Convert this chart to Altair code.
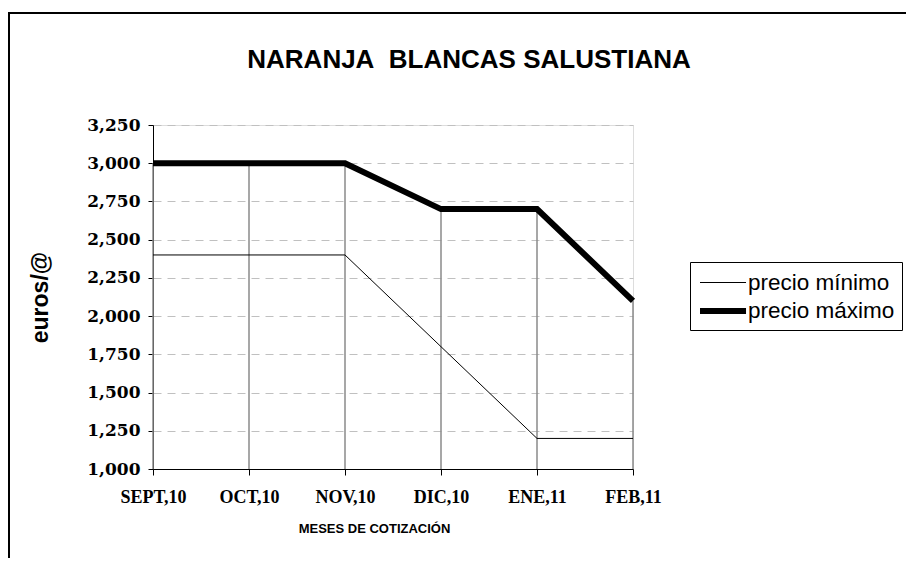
import altair as alt
import pandas as pd

months = ["SEPT,10", "OCT,10", "NOV,10", "DIC,10", "ENE,11", "FEB,11"]
precio_min = [2.4, 2.4, 2.4, 1.8, 1.2, 1.2]
precio_max = [3.0, 3.0, 3.0, 2.7, 2.7, 2.1]
series_names = ["precio mínimo", "precio máximo"]
y_ticks = [1.0, 1.25, 1.5, 1.75, 2.0, 2.25, 2.5, 2.75, 3.0, 3.25]
chart_title = "NARANJA\u00a0 BLANCAS SALUSTIANA"

wide = pd.DataFrame({"mes": months, "min": precio_min, "max": precio_max})
long = pd.concat([
    pd.DataFrame({"mes": months, "serie": series_names[0], "valor": precio_min}),
    pd.DataFrame({"mes": months, "serie": series_names[1], "valor": precio_max}),
])

x_axis = alt.Axis(
    title="MESES DE COTIZACIÓN", labelAngle=0, grid=False,
    labelFont="Liberation Serif", labelFontWeight="bold", labelFontSize=18,
    labelColor="black", labelPadding=13,
    domainColor="black", domainWidth=1, tickColor="black", tickSize=6,
    titleFont="Liberation Sans", titleFontWeight="bold", titleFontSize=13,
    titleColor="black", titleX=221, titleY=59, titleBaseline="middle",
    titleAnchor="start", titleAlign="center",
)
x_scale = alt.Scale(type="point", padding=0)

y_scale = alt.Scale(domain=[1.0, 3.25], nice=False, zero=False)
y_axis = alt.Axis(
    title="euros/@", values=y_ticks, labelOverlap=False,
    labelExpr="replace(format(datum.value, '.3f'), '.', ',')",
    labelFont="DejaVu Serif", labelFontWeight="bold", labelFontSize=17,
    labelColor="black", labelPadding=8,
    domainColor="black", domainWidth=1, tickColor="black", tickSize=5,
    grid=True, gridColor="#c0c0c0", gridDash=[8, 6], gridWidth=1,
    titleFont="Liberation Sans", titleFontWeight="bold", titleFontSize=23,
    titleColor="black", titleX=-101, titleY=172, titleAngle=270,
    titleBaseline="bottom", titleAlign="center", titleAnchor="start",
)

legend = alt.Legend(
    orient="none", legendX=537, legendY=137, title=None,
    symbolType="M-1,0H2.54", symbolSize=676,
    labelFont="Liberation Sans", labelFontSize=22.5, labelColor="black",
    strokeColor="black", fillColor="white", padding=7,
    labelOffset=19, rowPadding=1,
)

drops = alt.Chart(wide).mark_rule(color="#8a8a8a", strokeWidth=1.5).encode(
    x=alt.X("mes:N", sort=months, scale=x_scale, axis=x_axis),
    y=alt.Y("max:Q", scale=y_scale, axis=y_axis),
    y2=alt.datum(1.0),
)

lines = alt.Chart(long).mark_line(strokeJoin="miter", strokeCap="butt").encode(
    x=alt.X("mes:N", sort=months, scale=x_scale, axis=x_axis),
    y=alt.Y("valor:Q", scale=y_scale, axis=y_axis),
    color=alt.Color(
        "serie:N",
        scale=alt.Scale(domain=series_names, range=["black", "black"]),
        legend=legend,
    ),
    strokeWidth=alt.StrokeWidth(
        "serie:N",
        scale=alt.Scale(domain=series_names, range=[1, 6]),
        legend=legend,
    ),
)

frame = pd.DataFrame({"k": [0]})
top_border = alt.Chart(frame).mark_rule(color="black", strokeWidth=2).encode(
    x=alt.value(-145), x2=alt.value(760), y=alt.value(-112)
)
left_border = alt.Chart(frame).mark_rule(color="black", strokeWidth=2).encode(
    x=alt.value(-144), y=alt.value(-113), y2=alt.value(441)
)
title_text = alt.Chart(frame).mark_text(
    font="Liberation Sans", fontSize=26, fontWeight="bold", color="black",
    align="center", baseline="alphabetic",
).encode(x=alt.value(316), y=alt.value(-57), text=alt.value(chart_title))

chart = alt.layer(drops, lines, top_border, left_border, title_text).properties(
    width=480, height=344,
    autosize=alt.AutoSizeParams(type="none"),
    padding={"left": 145, "top": 117, "right": 273, "bottom": 89},
).configure_view(stroke=None).configure(background="white")

chart.save("out.html", embed_options={"renderer": "svg", "actions": False})
